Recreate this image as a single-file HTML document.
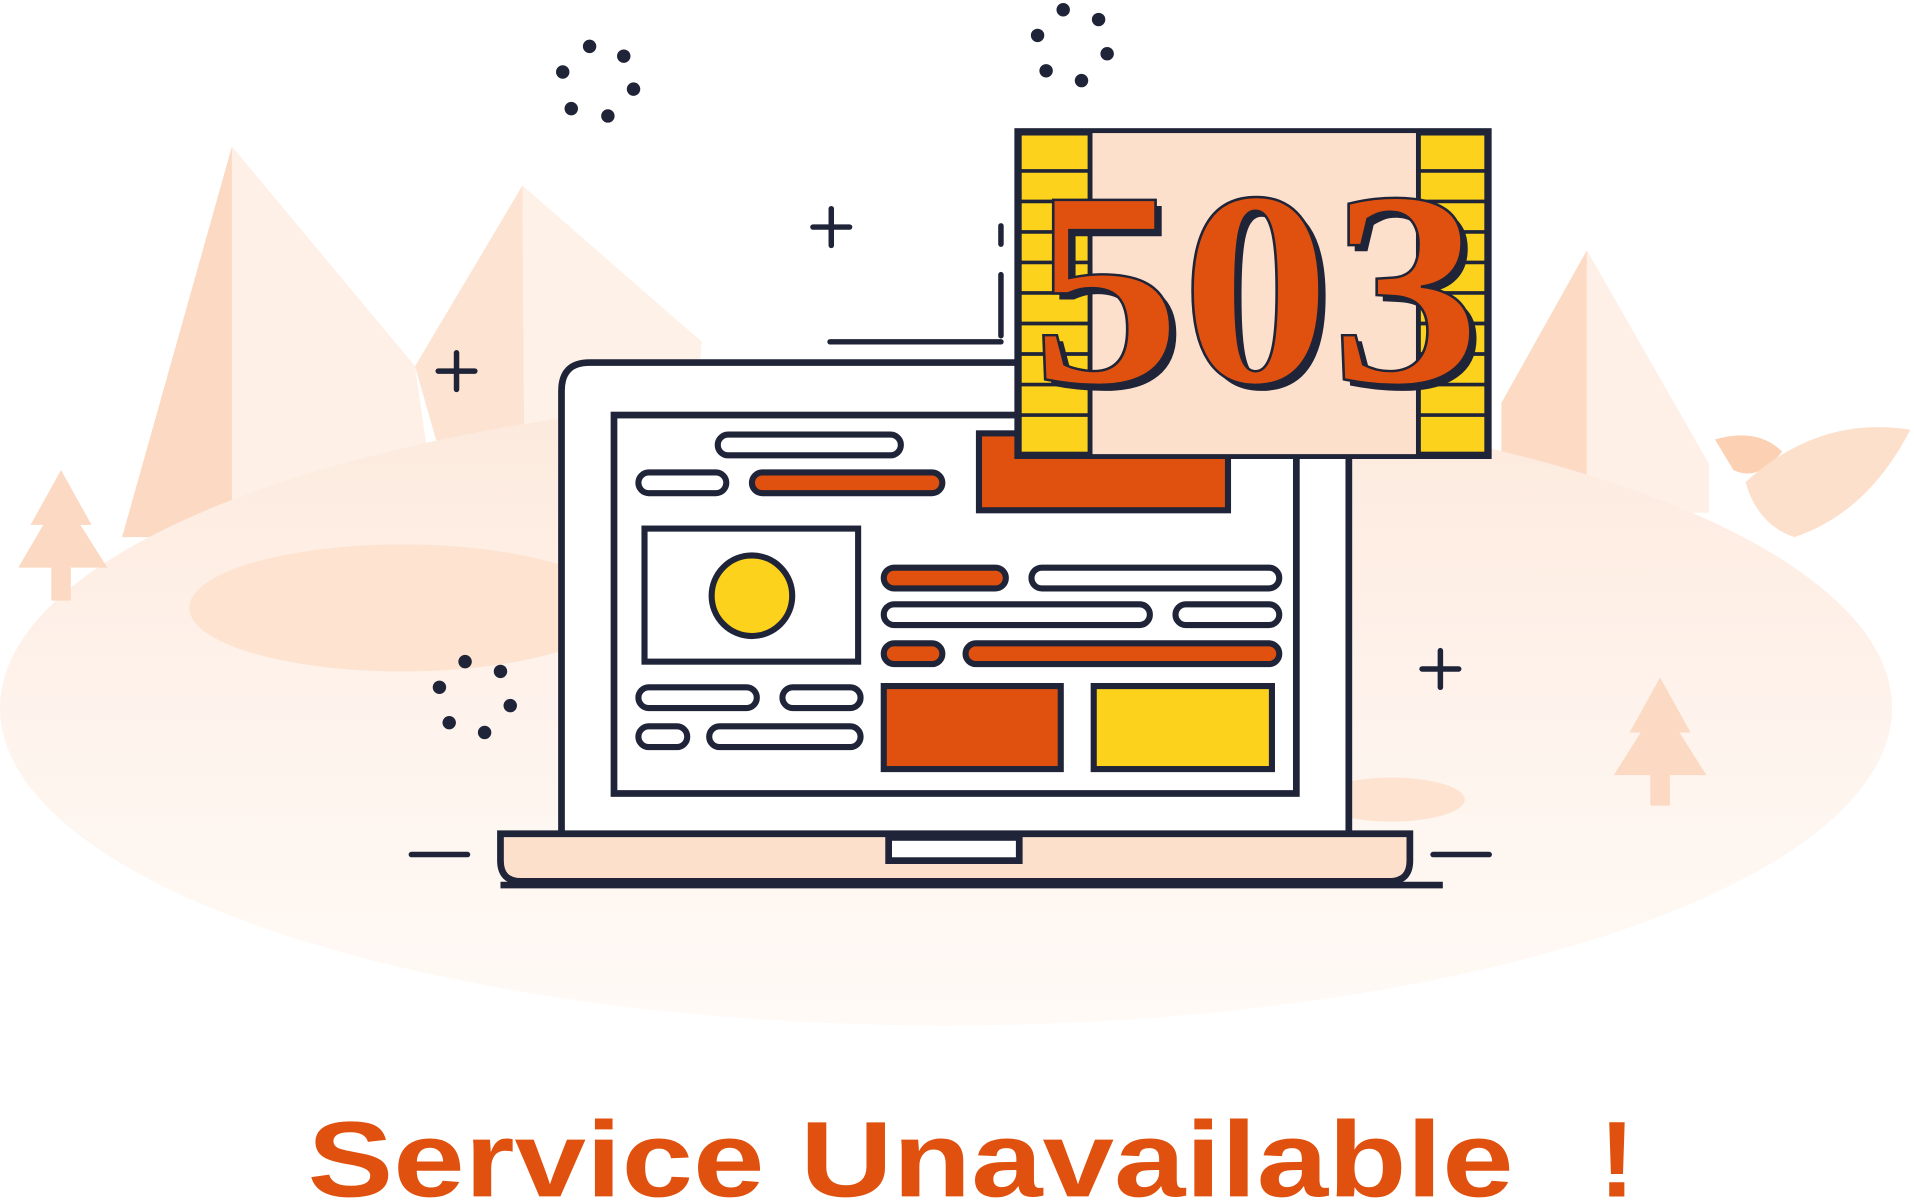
<!DOCTYPE html>
<html><head><meta charset="utf-8"><style>html,body{margin:0;padding:0;background:#fff}svg{display:block}</style></head>
<body>
<svg width="1914" height="1200" viewBox="0 0 1568 983" preserveAspectRatio="none" xmlns="http://www.w3.org/2000/svg">
<defs>
<linearGradient id="g1" x1="0" y1="0" x2="0" y2="1"><stop offset="0" stop-color="#fde9dc"/><stop offset="0.5" stop-color="#fef3ec"/><stop offset="1" stop-color="#fffaf6"/></linearGradient>
</defs>
<!-- mountains -->
<polygon points="190,120 100,440 190,440" fill="#fcd9c2"/>
<polygon points="190,120 340,300 360,440 190,440" fill="#fef0e6"/>
<polygon points="428,152 340,300 380,440 430,440" fill="#fde3d1"/>
<polygon points="428,152 575,280 560,440 430,440" fill="#fef1e8"/>
<polygon points="1300,205 1230,330 1230,420 1300,420" fill="#fcdac4"/>
<polygon points="1300,205 1400,380 1400,420 1300,420" fill="#fef0e6"/>
<!-- ground -->
<ellipse cx="775" cy="580" rx="775" ry="260" fill="url(#g1)"/>
<ellipse cx="330" cy="498" rx="175" ry="52" fill="#fde3d0"/>
<ellipse cx="1140" cy="655" rx="60" ry="18" fill="#fde3d0"/>
<!-- trees -->
<g fill="#fcd9c2"><polygon points="50,385 25,430 75,430"/><polygon points="50,405 15,465 88,465"/><rect x="42" y="462" width="16" height="30"/></g>
<g fill="#fcd9c2"><polygon points="1360,555 1335,600 1385,600"/><polygon points="1360,575 1322,635 1398,635"/><rect x="1352" y="632" width="16" height="28"/></g>
<!-- leaves -->
<path d="M1405,360 Q1440,350 1460,370 Q1440,395 1420,385 Z" fill="#fbd0b3"/>
<path d="M1430,395 Q1490,340 1565,352 Q1530,420 1470,440 Q1440,430 1430,395 Z" fill="#fde0cc"/>
<!-- dot rings -->
<g fill="#1f2438">
<circle cx="483" cy="38" r="5.5"/><circle cx="511" cy="46" r="5.5"/><circle cx="519" cy="73" r="5.5"/><circle cx="498" cy="95" r="5.5"/><circle cx="468" cy="89" r="5.5"/><circle cx="461" cy="59" r="5.5"/>
<circle cx="871" cy="8" r="5.5"/><circle cx="900" cy="16" r="5.5"/><circle cx="907" cy="44" r="5.5"/><circle cx="886" cy="66" r="5.5"/><circle cx="857" cy="58" r="5.5"/><circle cx="850" cy="29" r="5.5"/>
<circle cx="381" cy="542" r="5.5"/><circle cx="410" cy="550" r="5.5"/><circle cx="418" cy="578" r="5.5"/><circle cx="397" cy="600" r="5.5"/><circle cx="368" cy="592" r="5.5"/><circle cx="360" cy="563" r="5.5"/>
</g>
<g stroke="#1f2438" stroke-width="4.5" fill="none" stroke-linecap="round">
<path d="M681,171v30M666,186h30"/><path d="M374,289v30M359,304h30"/><path d="M1180,533v30M1165,548h30"/>
<path d="M337,700h46M1174,700h46"/>
<path d="M680,280h140M820,185v15M820,225v50"/>
</g>
<!-- laptop -->
<g stroke="#1f2438" stroke-width="5.5">
<path d="M460,690 V320 Q460,297 483,297 H1082 Q1105,297 1105,320 V690" fill="#fff"/>
<rect x="503" y="340" width="559" height="310" fill="#fff"/>
<path d="M410,683 H1155 V705 Q1155,722 1138,722 H427 Q410,722 410,705 Z" fill="#fde0cc"/>
<rect x="728" y="686" width="107" height="19" fill="#fff"/>
<path d="M410,725 H1182" fill="none"/>
</g>
<!-- screen content -->
<g stroke="#1f2438" stroke-width="5">
<rect x="588" y="356" width="150" height="17" rx="8.5" fill="#fff"/>
<rect x="523" y="387" width="72" height="17" rx="8.5" fill="#fff"/>
<rect x="616" y="387" width="156" height="17" rx="8.5" fill="#e0510f"/>
<rect x="802" y="355" width="204" height="63" fill="#e0510f"/>
<rect x="528" y="433" width="175" height="109" fill="#fff"/>
<circle cx="616" cy="488" r="33" fill="#fcd21c"/>
<rect x="724" y="465" width="100" height="17" rx="8.5" fill="#e0510f"/>
<rect x="845" y="465" width="203" height="17" rx="8.5" fill="#fff"/>
<rect x="724" y="495" width="218" height="17" rx="8.5" fill="#fff"/>
<rect x="963" y="495" width="85" height="17" rx="8.5" fill="#fff"/>
<rect x="724" y="527" width="48" height="17" rx="8.5" fill="#e0510f"/>
<rect x="791" y="527" width="257" height="17" rx="8.5" fill="#e0510f"/>
<rect x="523" y="563" width="97" height="17" rx="8.5" fill="#fff"/>
<rect x="641" y="563" width="64" height="17" rx="8.5" fill="#fff"/>
<rect x="523" y="595" width="40" height="17" rx="8.5" fill="#fff"/>
<rect x="581" y="595" width="124" height="17" rx="8.5" fill="#fff"/>
<rect x="724" y="562" width="145" height="68" fill="#e0510f"/>
<rect x="896" y="562" width="146" height="68" fill="#fcd21c"/>
</g>
<!-- 503 badge -->
<g stroke="#1f2438" stroke-width="4">
<rect x="833" y="107" width="387" height="267" fill="#fde0cc"/>
<rect x="835" y="109" width="58" height="263" fill="#fcd21c"/>
<rect x="1162" y="109" width="56" height="263" fill="#fcd21c"/>
</g>
<g stroke="#1f2438" stroke-width="3">
<path d="M835,140h58M835,165h58M835,190h58M835,215h58M835,240h58M835,265h58M835,290h58M835,315h58M835,340h58"/>
<path d="M1162,140h56M1162,165h56M1162,190h56M1162,215h56M1162,240h56M1162,265h56M1162,290h56M1162,315h56M1162,340h56"/>
</g>
<text x="1034" y="318" text-anchor="middle" font-family="Liberation Serif, serif" font-weight="bold" font-size="228" fill="#1f2438" textLength="368" lengthAdjust="spacingAndGlyphs">503</text>
<text x="1029" y="313" text-anchor="middle" font-family="Liberation Serif, serif" font-weight="bold" font-size="228" fill="#e0510f" stroke="#1f2438" stroke-width="2" textLength="368" lengthAdjust="spacingAndGlyphs">503</text>
<!-- title -->
<text x="252" y="980" font-family="Liberation Sans, sans-serif" font-weight="bold" font-size="88" fill="#e0510f" textLength="988" lengthAdjust="spacingAndGlyphs">Service Unavailable</text>
<text x="1310" y="980" font-family="Liberation Sans, sans-serif" font-weight="bold" font-size="88" fill="#e0510f">!</text>
</svg>
</body></html>
